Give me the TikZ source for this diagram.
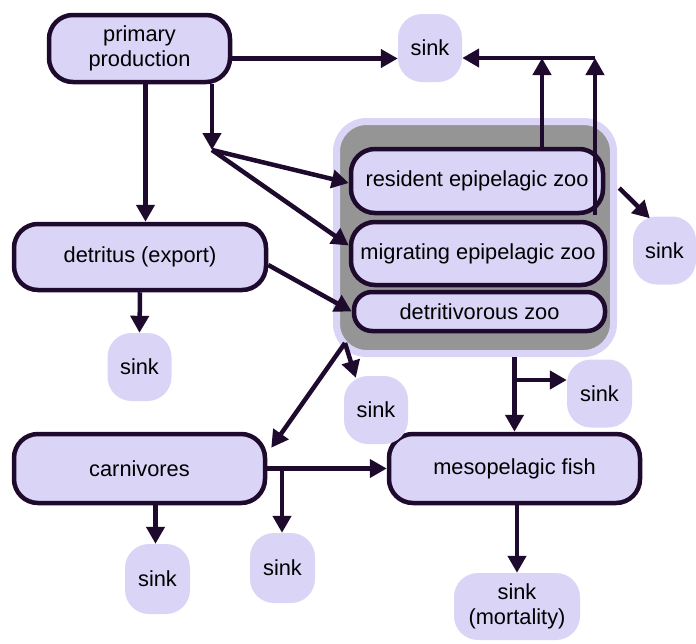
\documentclass[tikz,border=0pt]{standalone}
\usepackage{fontspec}
\setmainfont{Liberation Sans}
\usetikzlibrary{arrows.meta}

\definecolor{ink}{HTML}{1E0A2C}
\definecolor{lav}{HTML}{DAD4F6}
\definecolor{grp}{HTML}{959595}

\tikzset{
    box/.style={draw=ink, line width=4.5pt, fill=lav, rounded corners=24pt,
        minimum width=252pt, minimum height=66pt, inner sep=0pt, align=center,
        font=\fontsize{21.8}{24.5}\selectfont},
    sinkbox/.style={fill=lav, rounded corners=24pt, minimum width=64pt,
        minimum height=68pt, inner sep=0pt, align=center,
        font=\fontsize{21.8}{24.5}\selectfont},
    arr/.style={draw=ink, line width=4.5pt, -{Triangle[length=17pt,width=18pt]}}
}

\begin{document}
\begin{tikzpicture}[x=1pt,y=-1pt]
    \useasboundingbox (0,0) rectangle (696,643);
    %\draw[very thin,color=gray] (0,0) grid[step=50] (696,643);
    \node[draw=lav, line width=7pt, fill=grp, rounded corners=30pt,
        minimum width=277pt, minimum height=232pt] (zoo) at (475,237.5) {};
    \node[box, minimum width=252pt, minimum height=64pt] (res) at (477,181) {resident epipelagic zoo};
    \node[box, minimum width=254pt, minimum height=63pt] (mig) at (478,253.5) {migrating epipelagic zoo};
    \node[box, minimum width=251pt, minimum height=39pt, rounded corners=18pt] (dz) at (479.5,311.5) {detritivorous zoo};

    \node[box, minimum width=181pt, minimum height=67pt] (pp) at (139.5,48.5) {primary\\production};
    \node[box] (det) at (140,257) {detritus (export)};
    \node[box, minimum width=251pt, minimum height=69pt] (car) at (139.5,468.5) {carnivores};
    \node[box, minimum width=251pt, minimum height=69pt] (fish) at (514.5,468.5) {mesopelagic fish};

    \node[sinkbox] (sA) at (430,48) {sink};
    \node[sinkbox] (sB) at (139.5,367) {sink};
    \node[sinkbox] (sC) at (376,410) {sink};
    \node[sinkbox, minimum width=65pt] (sD) at (599.5,393.5) {sink};
    \node[sinkbox, minimum width=63pt] (sE) at (664.5,250.5) {sink};
    \node[sinkbox, minimum width=65pt, minimum height=70pt] (sF) at (282.5,568) {sink};
    \node[sinkbox, minimum width=65pt, minimum height=70pt] (sG) at (157.5,579) {sink};
    \node[sinkbox, minimum width=126pt, minimum height=67pt] (sH) at (517,606.5) {sink\\(mortality)};

    \coordinate (tm) at (542,58);
    \coordinate (tr) at (595,58);
    \coordinate (fork) at (212,150);
    \coordinate (gc) at (345,343);
    \coordinate (br) at (515,380);
    \coordinate (cj) at (282,468.5);

    \draw[arr] ([yshift=-10pt]pp.east) -- ([yshift=-10pt]pp.east -| sA.west);
    \draw[arr] (res.north -| tm) -- (tm);
    \draw[arr] (res.south -| tr) -- (tr);
    \draw[arr] (tr) -- (tr -| sA.east);
    \draw[arr] ([xshift=6pt]pp.south) -- ([xshift=6pt]pp.south |- det.north);
    \draw[arr] (pp.south -| fork) -- (fork);
    \draw[arr] (fork) -- ([yshift=-2pt]res.west);
    \draw[arr] (fork) -- ([yshift=8pt]mig.west);
    \draw[arr] ([yshift=-8pt]det.east) -- (dz.west);
    \draw[arr] (det.south) -- (sB.north);
    \draw[arr] (gc) -- ([xshift=4pt,yshift=-16pt]car.north east);
    \draw[arr] (gc) -- ([xshift=12pt,yshift=-2pt]sC.north west);
    \draw[arr] (zoo.south -| fish.north) -- (fish.north);
    \draw[arr] (br) -- (br -| sD.west);
    \draw[arr] ([xshift=14pt,yshift=-7pt]res.east) -- ([xshift=17pt,yshift=-2pt]sE.north west);
    \draw[arr] (car.east) -- (fish.west);
    \draw[arr] (cj) -- (cj |- sF.north);
    \draw[arr] ([xshift=16pt]car.south) -- ([xshift=16pt]car.south |- sG.north);
    \draw[arr] (fish.south -| sH.north) -- (sH.north);
\end{tikzpicture}
\end{document}
